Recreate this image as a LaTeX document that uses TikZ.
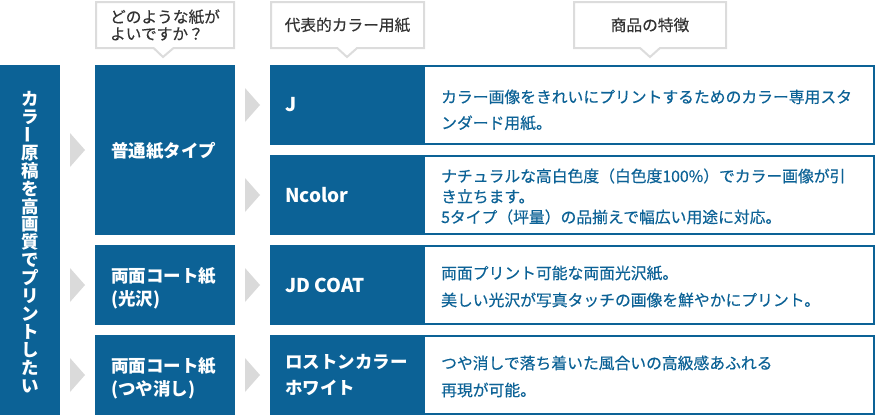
\documentclass[tikz,border=0pt]{standalone}
\usepackage{fontspec}
\usepackage{graphicx}
\setmainfont{Noto Sans CJK JP}
\newfontfamily\medfont{Noto Sans CJK JP}[FakeBold=0.35]
\usetikzlibrary{shapes.callouts,calc}
\definecolor{mainblue}{HTML}{0C6296}
\definecolor{tricol}{HTML}{DADADA}
\definecolor{callgray}{HTML}{DCDCDC}
\definecolor{txtgray}{HTML}{333333}
\newcommand{\vchoon}{\raisebox{0.16em}{\rotatebox[origin=c]{90}{ー}}}
\tikzset{
  darkbox/.style={fill=mainblue, draw=none, inner sep=0, outer sep=0, anchor=north west},
  rowframe/.style={draw=mainblue, line width=2pt, fill=white, inner sep=0, outer sep=0, anchor=north west},
  callbox/.style={rectangle callout, draw=callgray, line width=2pt, fill=white, inner sep=0,
    callout pointer width=20pt, text=txtgray, align=left, font=\medfont\fontsize{15.7}{17}\selectfont},
  lbl/.style={text=white, inner sep=0, anchor=west, align=left, font=\fontsize{17.5}{23}\selectfont\bfseries},
  latinlbl/.style={text=white, inner sep=0, anchor=west, font=\fontsize{19}{23}\selectfont\bfseries},
  desc/.style={text=mainblue, inner sep=0, anchor=west, align=left, font=\medfont\fontsize{15.8}{26}\selectfont},
  gtri/.pic={\fill[tricol] (0,-17) -- (15,0) -- (0,17) -- cycle;}
}
\begin{document}
\begin{tikzpicture}[x=1pt,y=-1pt]
\useasboundingbox (0,0) rectangle (876,415);
% header callouts
\node[callbox, minimum width=138, minimum height=46, callout absolute pointer={(163,57)}] (h1) at (165,25) {どのような紙が\\よいですか？};
\node[callbox, minimum width=153, minimum height=46, callout absolute pointer={(347,57)}] (h2) at (347.5,25) {代表的カラー用紙};
\node[callbox, minimum width=152, minimum height=46, callout absolute pointer={(650,57)}] (h3) at (650,25) {商品の特徴};
% left column
\node[darkbox, minimum width=60, minimum height=350] (main) at (0,65) {};
\node[text=white, inner sep=0, align=center, font=\fontsize{17.5}{17.9}\selectfont\bfseries] (vt) at (30,242)
 {カ\\ラ\\\vchoon\\原\\稿\\を\\高\\画\\質\\で\\プ\\リ\\ン\\ト\\し\\た\\い};
% second column
\node[darkbox, minimum width=140, minimum height=170] (plain) at (95,65) {};
\node[darkbox, minimum width=140, minimum height=80] (gloss) at (95,245) {};
\node[darkbox, minimum width=140, minimum height=80] (matte) at (95,335) {};
\node[lbl] (plainl) at (111,151) {普通紙タイプ};
\node[lbl] (glossl) at (111,288) {両面コート紙\\(光沢)};
\node[lbl] (mattel) at (111,378) {両面コート紙\\(つや消し)};
% third column rows
\node[rowframe, minimum width=603, minimum height=78] (r1) at (271,66) {};
\node[rowframe, minimum width=603, minimum height=78] (r2) at (271,156) {};
\node[rowframe, minimum width=603, minimum height=78] (r3) at (271,246) {};
\node[rowframe, minimum width=603, minimum height=78] (r4) at (271,336) {};
\node[darkbox, minimum width=155, minimum height=80] (k1) at (270,65) {};
\node[darkbox, minimum width=155, minimum height=80] (k2) at (270,155) {};
\node[darkbox, minimum width=155, minimum height=80] (k3) at (270,245) {};
\node[darkbox, minimum width=155, minimum height=80] (k4) at (270,335) {};
\node[latinlbl] (k1l) at (285,105) {J};
\node[latinlbl] (k2l) at (285,195) {Ncolor};
\node[latinlbl] (k3l) at (285,285) {JD COAT};
\node[lbl, font=\fontsize{17.5}{26}\selectfont\bfseries] (k4l) at (285,375) {ロストンカラー\\ホワイト};
% descriptions
\node[desc] (d1) at (441,110) {カラー画像をきれいにプリントするためのカラー専用スタ\\ンダード用紙。};
\node[desc, font=\medfont\fontsize{15.8}{20.5}\selectfont] (d2) at (441,196.5) {ナチュラルな高白色度（白色度100\%）でカラー画像が引\\き立ちます。\\5タイプ（坪量）の品揃えで幅広い用途に対応。};
\node[desc, font=\medfont\fontsize{15.8}{27}\selectfont] (d3) at (441,286.5) {両面プリント可能な両面光沢紙。\\美しい光沢が写真タッチの画像を鮮やかにプリント。};
\node[desc, font=\medfont\fontsize{15.8}{27}\selectfont] (d4) at (441,376.5) {つや消しで落ち着いた風合いの高級感あふれる\\再現が可能。};
% arrows
\pic at ($(plain.west)+(-25,0)$) {gtri};
\pic at ($(gloss.west)+(-25,0)$) {gtri};
\pic at ($(matte.west)+(-25,0)$) {gtri};
\pic at ($(k1.west)+(-25,0)$) {gtri};
\pic at ($(k2.west)+(-25,0)$) {gtri};
\pic at ($(k3.west)+(-25,0)$) {gtri};
\pic at ($(k4.west)+(-25,0)$) {gtri};
\end{tikzpicture}
\end{document}
